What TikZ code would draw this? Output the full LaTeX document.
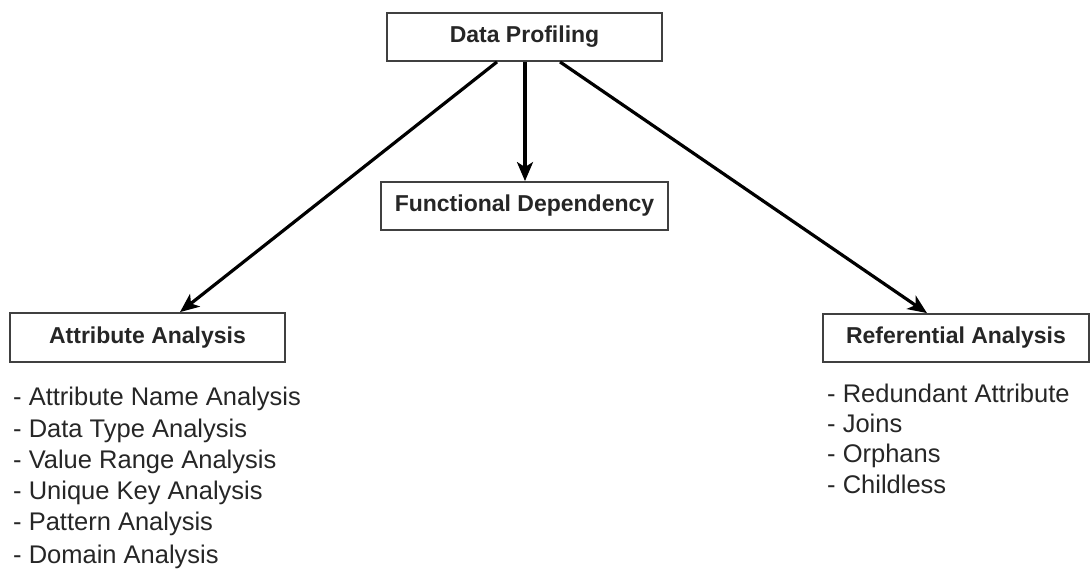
\documentclass[tikz,border=0pt]{standalone}
\usepackage{fontspec}
\setmainfont{Liberation Sans}
\usetikzlibrary{arrows.meta}
\tikzset{
  x=1pt,y=1pt,
  box/.style={draw=black!75, line width=1.8pt, fill=white, inner sep=0pt,
    font=\fontsize{23}{26}\selectfont\bfseries, text=black!85},
  arr/.style={line width=3.2pt, -{Stealth[length=19pt,width=16pt,inset=5pt]}, black},
  item/.style={anchor=base west, inner sep=0pt, font=\fontsize{25.5}{30}\selectfont, text=black!85}
}
\begin{document}
\begin{tikzpicture}
\useasboundingbox (0,0) rectangle (1091,571);
\node[box, minimum width=275pt, minimum height=48pt] (DP) at (524.5,534) {Data Profiling};
\node[box, minimum width=287pt, minimum height=48pt] (FD) at (524.5,365) {Functional Dependency};
\node[box, minimum width=275pt, minimum height=49pt] (AA) at (147.5,233.5) {Attribute Analysis};
\node[box, minimum width=266pt, minimum height=48pt] (RA) at (956,233) {Referential Analysis};

\draw[arr] ([xshift=-27.5pt]DP.south) -- ([xshift=32.5pt]AA.north);
\draw[arr] ([xshift=0.5pt]DP.south) -- ([xshift=0.5pt]FD.north);
\draw[arr] ([xshift=35.5pt]DP.south) -- ([xshift=-29pt]RA.north);

\node[item] (a1) at (13,166) {- Attribute Name Analysis};
\node[item] (a2) at (13,134) {- Data Type Analysis};
\node[item] (a3) at (13,103) {- Value Range Analysis};
\node[item] (a4) at (13,72) {- Unique Key Analysis};
\node[item] (a5) at (13,41) {- Pattern Analysis};
\node[item] (a6) at (13,8) {- Domain Analysis};

\node[item] (r1) at (827,169) {- Redundant Attribute};
\node[item] (r2) at (827,139) {- Joins};
\node[item] (r3) at (827,109) {- Orphans};
\node[item] (r4) at (827,78) {- Childless};
\end{tikzpicture}
\end{document}
